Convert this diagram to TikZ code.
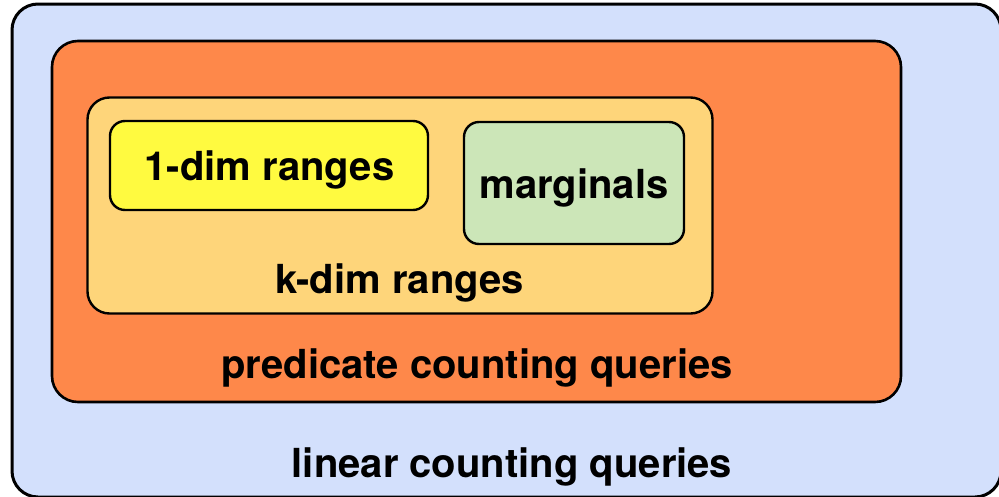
\documentclass[tikz,border=0pt]{standalone}
\usepackage{fontspec}
\setmainfont{TeX Gyre Heros}
\definecolor{cblue}{RGB}{211,224,252}
\definecolor{corange}{RGB}{254,136,74}
\definecolor{ctan}{RGB}{254,213,122}
\definecolor{cyellow}{RGB}{255,250,64}
\definecolor{cgreen}{RGB}{204,230,184}
\tikzset{
  boxshape/.style={draw=black, rounded corners=#1, inner sep=0pt},
  lbl/.style={anchor=base, inner sep=0pt, font=\fontsize{40}{41}\selectfont\bfseries},
}
\begin{document}
\begin{tikzpicture}[x=1pt,y=-1pt]
\useasboundingbox (0,0) rectangle (999,496);
\begin{scope}
\clip (0,0) rectangle (999,496);
\draw[boxshape=26pt, fill=cblue, line width=3pt] (12,4) rectangle (1001,497);
\end{scope}
\node[boxshape=26pt, fill=corange, line width=2.6pt, minimum width=849pt, minimum height=361pt] (pred) at (476.5,221.5) {};
\node[boxshape=22pt, fill=ctan, line width=2.4pt, minimum width=625pt, minimum height=216pt] (kdim) at (400,205.5) {};
\node[boxshape=15pt, fill=cyellow, line width=2.4pt, minimum width=318pt, minimum height=89pt] (onedim) at (269,165.5) {};
\node[boxshape=15pt, fill=cgreen, line width=2.4pt, minimum width=220pt, minimum height=122pt] (marg) at (574,183) {};
\node[lbl] (tone) at (269.5,180) {1-dim ranges};
\node[lbl] (tmarg) at (574,198) {marginals};
\node[lbl] (tk) at (399.5,293) {k-dim ranges};
\node[lbl] (tpred) at (477,378) {predicate counting queries};
\node[lbl] (tlin) at (512,477.5) {linear counting queries};
\end{tikzpicture}
\end{document}
